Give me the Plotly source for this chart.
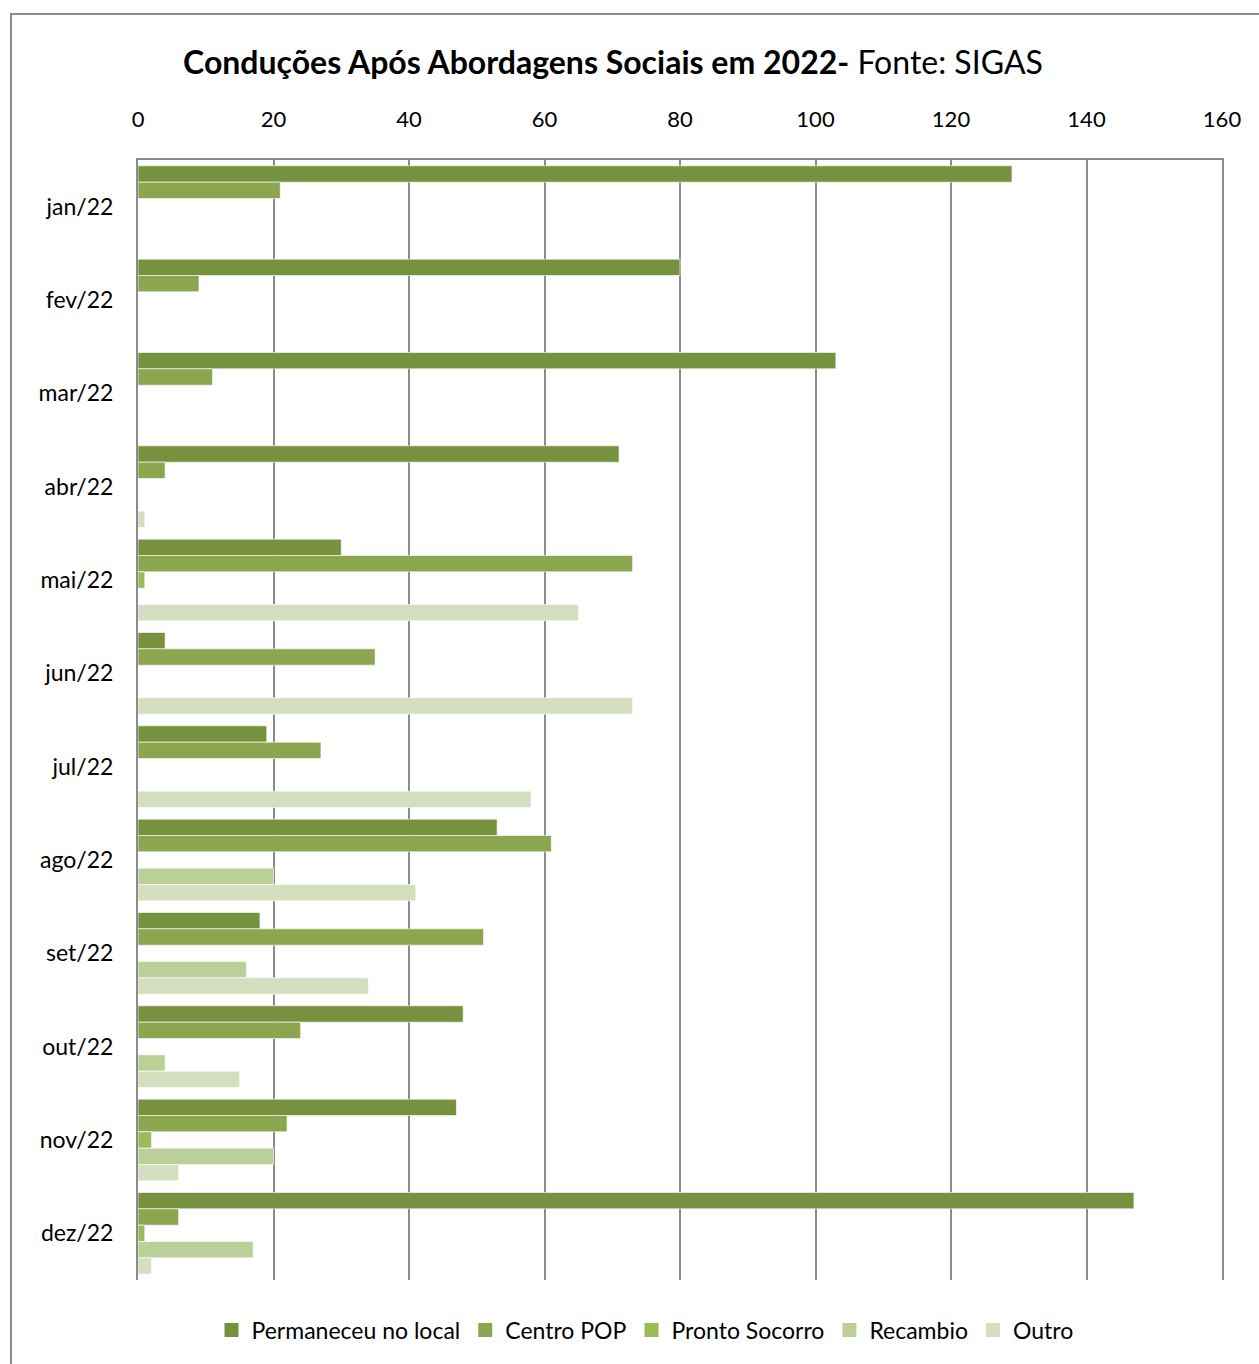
import plotly.graph_objects as go

# Monthly categories (top to bottom)
months = ["jan/22", "fev/22", "mar/22", "abr/22", "mai/22", "jun/22",
          "jul/22", "ago/22", "set/22", "out/22", "nov/22", "dez/22"]

# Series values per month
permaneceu_no_local = [129, 80, 103, 71, 30, 4, 19, 53, 18, 48, 47, 147]
centro_pop = [21, 9, 11, 4, 73, 35, 27, 61, 51, 24, 22, 6]
pronto_socorro = [0, 0, 0, 0, 1, 0, 0, 0, 0, 0, 2, 1]
recambio = [0, 0, 0, 0, 0, 0, 0, 20, 16, 4, 20, 17]
outro = [0, 0, 0, 1, 65, 73, 58, 41, 34, 15, 6, 2]

series_names = ["Permaneceu no local", "Centro POP", "Pronto Socorro", "Recambio", "Outro"]
series_values = [permaneceu_no_local, centro_pop, pronto_socorro, recambio, outro]
series_colors = ["#77923F", "#8BA64F", "#9BBB59", "#BBCF98", "#D3DFBF"]

x_ticks = [0, 20, 40, 60, 80, 100, 120, 140, 160]

FONT = "Lato"

fig = go.Figure()
for name, vals, color in zip(series_names, series_values, series_colors):
    fig.add_trace(go.Bar(
        y=months, x=vals, name=name, orientation="h", legendgroup=name,
        showlegend=False,
        marker=dict(color=color, line=dict(color="rgba(255,255,255,0.6)", width=1)),
    ))

# Legend entries with larger square swatches
for name, color in zip(series_names, series_colors):
    fig.add_trace(go.Scatter(
        x=[None], y=[None], mode="markers", name=name, legendgroup=name,
        marker=dict(symbol="square", size=14, color=color),
    ))

W, H = 1259, 1364
ml, mr, mt, mb = 138, 37, 160, 84
pw, ph = W - ml - mr, H - mt - mb

fig.update_layout(
    width=W, height=H,
    margin=dict(l=ml, r=mr, t=mt, b=mb),
    paper_bgcolor="white", plot_bgcolor="white",
    barmode="group", bargap=0.125, bargroupgap=0,
    font=dict(family=FONT, size=22, color="black"),
    title=dict(
        text="<b>Conduções Após Abordagens Sociais em 2022-</b> Fonte: SIGAS",
        x=613 / W, xref="container", xanchor="center",
        y=1 - 63 / H, yref="container", yanchor="middle",
        font=dict(family=FONT, size=32, color="black"),
    ),
    xaxis=dict(
        side="top", range=[0, 160], tickvals=x_ticks,
        showgrid=True, gridcolor="#8C8C8C", gridwidth=2,
        showline=True, linecolor="#8C8C8C", linewidth=2,
        zeroline=False, ticks="", ticklabelstandoff=22,
        tickfont=dict(family=FONT, size=22),
    ),
    yaxis=dict(
        autorange="reversed", showgrid=False,
        showline=True, mirror=True, linecolor="#8C8C8C", linewidth=2,
        ticks="", ticklabelstandoff=18,
        tickfont=dict(family=FONT, size=23),
    ),
    legend=dict(
        orientation="h", x=(645 - ml) / pw, xanchor="center",
        y=-(1330 - (mt + ph)) / ph, yanchor="middle",
        font=dict(family=FONT, size=23), itemwidth=30,
        traceorder="normal",
    ),
    shapes=[dict(
        type="rect", xref="paper", yref="paper",
        x0=(11 - ml) / pw, x1=1.2, y0=-0.2, y1=1 + (mt - 14) / ph,
        line=dict(color="#8C8C8C", width=2), fillcolor="rgba(0,0,0,0)",
        layer="below",
    )],
)

fig.write_html("out.html")
